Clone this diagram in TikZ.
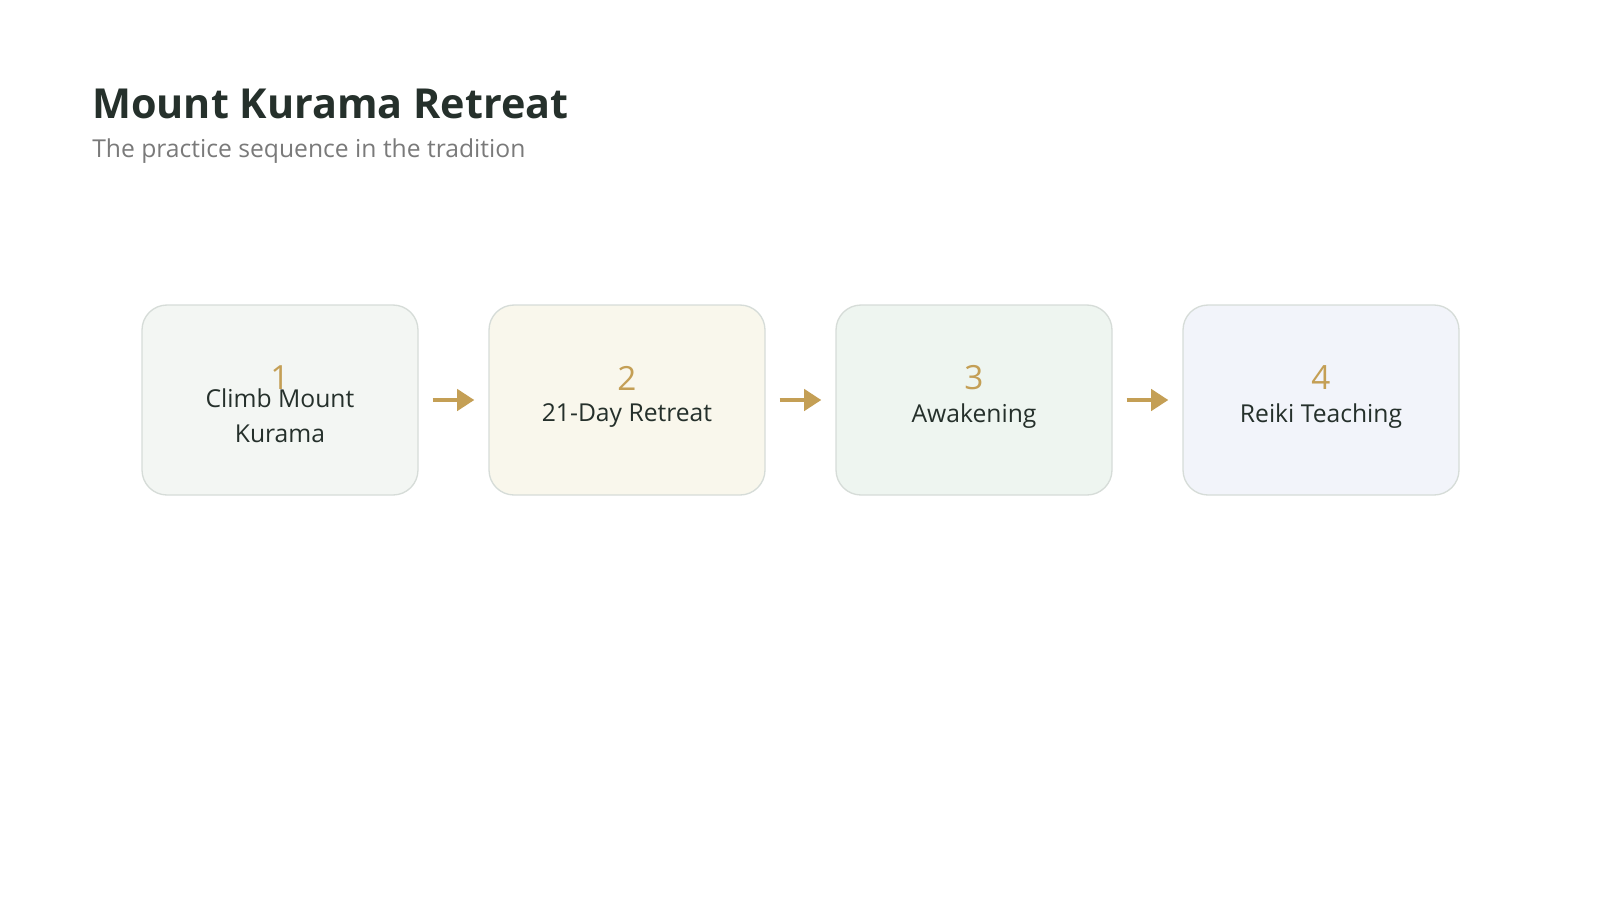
\documentclass[tikz,border=0pt]{standalone}
\usepackage{fontspec}
\setmainfont{Open Sans}
\usetikzlibrary{arrows.meta,positioning}

\definecolor{ink}{HTML}{25302B}
\definecolor{muted}{HTML}{7A7A7A}
\definecolor{gold}{HTML}{C49F55}
\definecolor{edge}{HTML}{D6DCD8}
\definecolor{fillA}{HTML}{F3F6F3}
\definecolor{fillB}{HTML}{F9F7EC}
\definecolor{fillC}{HTML}{EEF5F0}
\definecolor{fillD}{HTML}{F2F4FA}

\tikzset{
	stepbox/.style={draw=edge,line width=1pt,rounded corners=18.75pt,minimum width=207pt,minimum height=142.5pt,inner sep=0pt},
	stepnum/.style={text=gold,font=\fontsize{25}{30}\selectfont,inner sep=0pt},
	steplabel/.style={text=ink,font=\fontsize{18.5}{26.5}\selectfont,align=center,inner sep=0pt},
	flow/.style={draw=gold,line width=3pt,-{Triangle[length=13pt,width=16pt]},shorten <=10.5pt,shorten >=10.5pt}
}

\begin{document}
\begin{tikzpicture}[x=0.75pt,y=-0.75pt]
		\useasboundingbox (0,0) rectangle (1600,900);
		
		% heading
		\node[anchor=base west,inner sep=0pt,text=ink,font=\bfseries\fontsize{31}{36}\selectfont] (title) at (92,118) {Mount Kurama Retreat};
		\node[anchor=base west,inner sep=0pt,text=muted,font=\fontsize{18.5}{24}\selectfont] (subtitle) at (92,157) {The practice sequence in the tradition};
		
		% steps
		\foreach \i/\cx/\fillc/\txt in {1/280/fillA/{Climb Mount\\Kurama},2/627/fillB/{21-Day Retreat},3/974/fillC/{Awakening},4/1321/fillD/{Reiki Teaching}}{
			\node[stepbox,fill=\fillc] (box\i) at (\cx,400) {};
			\node[stepnum] (num\i) at (\cx,378) {\i};
			\node[steplabel] (label\i) at (\cx,416) {\txt};
		}
		
		% arrows between steps
		\foreach \i/\j in {1/2,2/3,3/4}
			\draw[flow] (box\i.east) -- (box\j.west);
	\end{tikzpicture}
\end{document}
